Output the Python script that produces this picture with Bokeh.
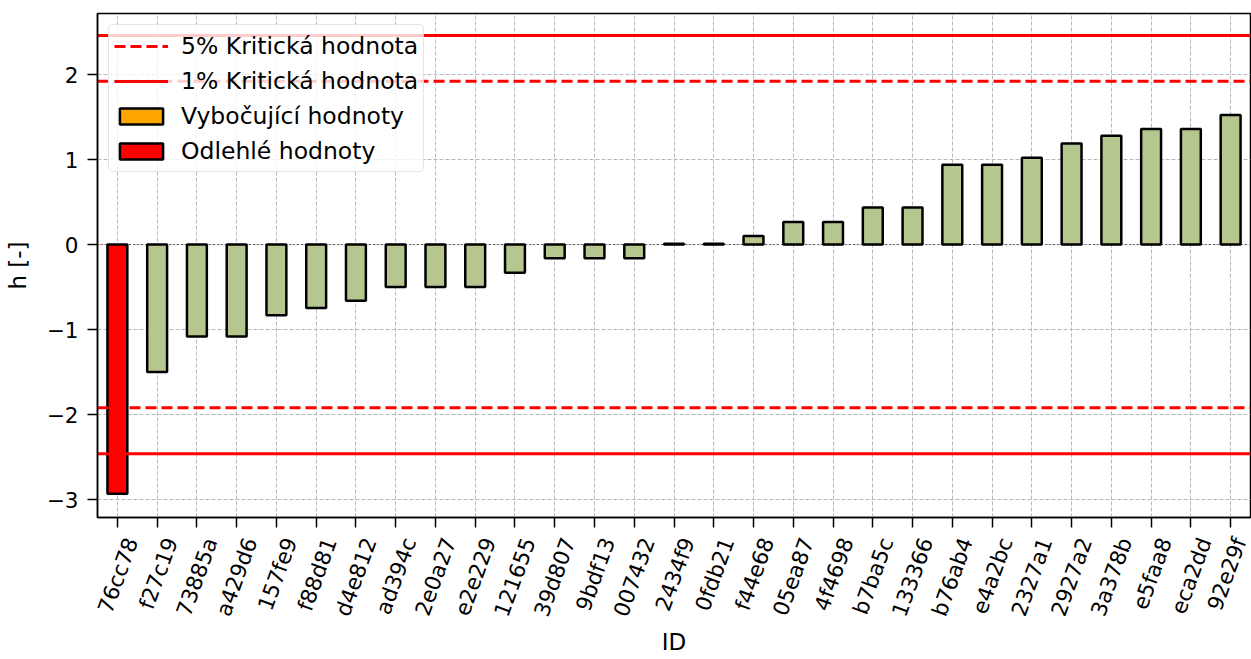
import math
from bokeh.plotting import figure
from bokeh.models import (Range1d, FixedTicker, Legend, LegendItem, LinearAxis)
from bokeh.embed import file_html
from bokeh.resources import INLINE

# ---- data ----
ids = ["76cc78", "f27c19", "73885a", "a429d6", "157fe9", "f88d81", "d4e812",
       "ad394c", "2e0a27", "e2e229", "121655", "39d807", "9bdf13", "007432",
       "2434f9", "0fdb21", "f44e68", "05ea87", "4f4698", "b7ba5c", "133366",
       "b76ab4", "e4a2bc", "2327a1", "2927a2", "3a378b", "e5faa8", "eca2dd",
       "92e29f"]
h_values = [-2.93, -1.50, -1.08, -1.08, -0.83, -0.745, -0.66,
            -0.50, -0.50, -0.50, -0.33, -0.16, -0.16, -0.16,
            0.01, 0.01, 0.10, 0.265, 0.265, 0.435, 0.435,
            0.94, 0.94, 1.02, 1.19, 1.28, 1.36, 1.36,
            1.525]
crit_5 = 1.92
crit_1 = 2.46
y_ticks = [-3, -2, -1, 0, 1, 2]

FONT = "DejaVu Sans"
GREEN = "#b5c78e"
TICK_FS = "21.5px"

n = len(ids)
x_lo, x_hi = -0.5, n - 0.5
idx = list(range(n))

groups = {"normal": ([], []), "vyb": ([], []), "odl": ([], [])}
for i, v in zip(idx, h_values):
    if abs(v) > crit_1:
        key = "odl"
    elif abs(v) > crit_5:
        key = "vyb"
    else:
        key = "normal"
    groups[key][0].append(i)
    groups[key][1].append(v)
for key in groups:
    if not groups[key][0]:
        groups[key] = ([float("nan")], [float("nan")])

p = figure(width=1251, height=659, output_backend="svg", toolbar_location=None,
           x_range=Range1d(x_lo, x_hi), y_range=Range1d(-3.21, 2.718),
           min_border_left=97, min_border_right=1, min_border_top=13,
           min_border_bottom=142)

p.background_fill_color = "white"
p.border_fill_color = "white"
p.outline_line_color = "black"
p.outline_line_width = 1.5

# grid
for g in (p.xgrid, p.ygrid):
    g.grid_line_color = "#b8b8b8"
    g.grid_line_dash = "4 2"
    g.grid_line_width = 1

# axes (ticks)
p.xaxis.ticker = FixedTicker(ticks=idx)
p.yaxis.ticker = FixedTicker(ticks=y_ticks)
p.yaxis.major_label_overrides = {t: (str(t).replace("-", "\u2212")) for t in y_ticks}
for ax in (p.xaxis, p.yaxis):
    ax.axis_line_color = "black"
    ax.axis_line_width = 1.5
    ax.major_tick_line_color = "black"
    ax.major_tick_line_width = 1.5
    ax.major_tick_out = 10
    ax.major_tick_in = 0
    ax.minor_tick_line_color = None
    ax.minor_tick_out = 0
    ax.major_label_text_font = FONT
    ax.major_label_text_font_size = TICK_FS
    ax.major_label_text_color = "black"
    ax.axis_label_text_font = FONT
    ax.axis_label_text_font_size = "23px"
    ax.axis_label_text_font_style = "normal"
    ax.axis_label_text_color = "black"
p.yaxis.major_label_standoff = 9
p.yaxis.axis_label = "h [-]"
p.yaxis.axis_label_standoff = 13
# the tick-mark axis draws no labels (they come from the shifted axis below)
p.xaxis.major_label_text_font_size = "0px"
p.xaxis.major_label_text_color = None
p.xaxis.major_label_text_alpha = 0
p.xaxis.major_label_standoff = 0

# tick labels on a second, slightly shifted axis (mimics centred rotated labels)
label_shift = 0.35
p.extra_x_ranges = {"labels": Range1d(x_lo - label_shift, x_hi - label_shift)}
lab_axis = LinearAxis(x_range_name="labels", ticker=FixedTicker(ticks=idx))
lab_axis.major_label_overrides = {i: s for i, s in zip(idx, ids)}
lab_axis.major_label_orientation = math.radians(70)
lab_axis.axis_line_color = None
lab_axis.major_tick_line_color = None
lab_axis.minor_tick_line_color = None
lab_axis.major_tick_out = 0
lab_axis.major_tick_in = 0
lab_axis.minor_tick_out = 0
lab_axis.minor_tick_in = 0
lab_axis.major_label_standoff = 11
lab_axis.major_label_text_font = FONT
lab_axis.major_label_text_font_size = TICK_FS
lab_axis.major_label_text_color = "black"
lab_axis.axis_label = "ID"
lab_axis.axis_label_standoff = 2
lab_axis.axis_label_text_font = FONT
lab_axis.axis_label_text_font_size = "23px"
lab_axis.axis_label_text_font_style = "normal"
lab_axis.axis_label_text_color = "black"
p.add_layout(lab_axis, "below")

# bars
r_norm = p.vbar(x=groups["normal"][0], top=groups["normal"][1], bottom=0, width=0.5,
                fill_color=GREEN, line_color="black", line_width=2.5)
r_vyb = p.vbar(x=groups["vyb"][0], top=groups["vyb"][1], bottom=0, width=0.5,
               fill_color="orange", line_color="black", line_width=2.5)
r_odl = p.vbar(x=groups["odl"][0], top=groups["odl"][1], bottom=0, width=0.5,
               fill_color="red", line_color="black", line_width=2.5)

# zero line
p.line(x=[x_lo, x_hi], y=[0, 0], line_color="black", line_width=1, line_dash="1 3")

# critical lines
r5a = p.line(x=[x_lo, x_hi], y=[crit_5, crit_5], line_color="red", line_width=3, line_dash="11 5")
r5b = p.line(x=[x_lo, x_hi], y=[-crit_5, -crit_5], line_color="red", line_width=3, line_dash="11 5")
r1a = p.line(x=[x_lo, x_hi], y=[crit_1, crit_1], line_color="red", line_width=3)
r1b = p.line(x=[x_lo, x_hi], y=[-crit_1, -crit_1], line_color="red", line_width=3)

legend = Legend(items=[
    LegendItem(label="5% Kritická hodnota", renderers=[r5a]),
    LegendItem(label="1% Kritická hodnota", renderers=[r1a]),
    LegendItem(label="Vybočující hodnoty", renderers=[r_vyb]),
    LegendItem(label="Odlehlé hodnoty", renderers=[r_odl]),
])
legend.location = "top_left"
legend.margin = 11
legend.padding = 5
legend.spacing = 4
legend.label_height = 31
legend.glyph_height = 20
legend.glyph_width = 54
legend.label_standoff = 13
legend.label_text_font = FONT
legend.label_text_font_size = "23.5px"
legend.label_text_color = "black"
legend.border_line_color = "#cccccc"
legend.border_line_width = 1.5
legend.background_fill_color = "white"
legend.background_fill_alpha = 0.8
if "border_radius" in Legend.properties():
    legend.border_radius = 5
p.add_layout(legend)

open("out.html", "w").write(file_html(p, INLINE))
